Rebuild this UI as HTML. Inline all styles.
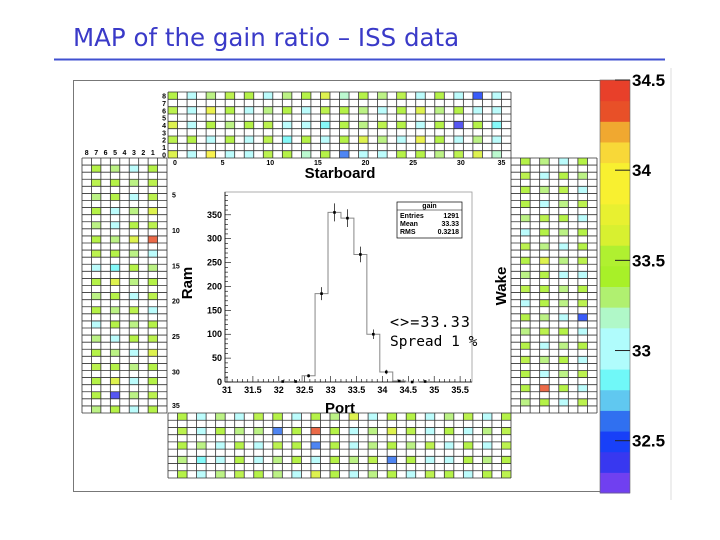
<!DOCTYPE html>
<html><head><meta charset="utf-8"><style>
body{margin:0;background:#fff;}
svg{display:block;font-family:"Liberation Sans",sans-serif;}
</style></head><body>
<svg id="c" width="720" height="540" viewBox="0 0 720 540" xmlns="http://www.w3.org/2000/svg">
<text x="73" y="46" font-family="DejaVu Sans, sans-serif" font-size="24.5" fill="#3a3ac8">MAP of the gain ratio – ISS data</text>
<line x1="54" y1="59.5" x2="665" y2="59.5" stroke="#4050d0" stroke-width="2"/>
<rect x="73.5" y="80.5" width="527" height="411" fill="#fff" stroke="#777"/>
<line x1="671" y1="68" x2="671" y2="500" stroke="#ddd"/>
<g id="panels"></g>
<g id="hist"></g>
<g id="cbar"></g>
<text x="340" y="178" text-anchor="middle" font-weight="bold" font-size="15">Starboard</text>
<text x="340" y="413" text-anchor="middle" font-weight="bold" font-size="15">Port</text>
<text transform="translate(192,283) rotate(-90)" text-anchor="middle" font-weight="bold" font-size="15">Ram</text>
<text transform="translate(506,286) rotate(-90)" text-anchor="middle" font-weight="bold" font-size="15">Wake</text>
<text x="390" y="327" font-family="DejaVu Sans Mono, monospace" font-size="15" letter-spacing="1.1">&lt;&gt;=33.33</text>
<text x="390" y="346" font-family="DejaVu Sans Mono, monospace" font-size="14.5">Spread 1 %</text>
</svg>
<script>
// heatmap values: char code -> gain = 32.25 + (code-'a')*0.1143
const topRows = ["khjlkhjkmikjlhkhcg","lhnkgjkhlkjhkmjkgh","mhkjklhgfkjlkhkbkf","lkhkhlfkhkmjgnkhjh","mhohglkikdghkkjlmi"];
const bottomRows = ["kgjhlkhkjmhkkgjlhk","lhkjjdkskhjmlgkhjl","kjhkglkdkhjkjlhkgl","jfhkhjkhkjldkhgkjk","khjlkjgmkhjkhlkgkl"];
const leftRows = ["kjhk","lkjl","jkhl","kgjm","jhkl","kjms","lkjh","hfkj","kmjk","jkhl","kjlh","hkjk","jhkl","kjhm","lkjk","kmhk","kbjl","jkhk"];
const rightRows = ["kjhk","lhkj","kjlh","kgjl","jlkh","hkjk","ljhk","kmjl","jkhg","lkjk","hkjl","kjhc","jlkh","khjk","ljkh","kgjl","kskh","jkhl"];
const histBins = [32.075,32.325,32.575,32.825,33.075,33.325,33.575,33.825,34.075,34.325,34.575,34.825];
const histCounts = [1,1,13,185,355,343,267,100,21,2,0,1];
const xTicks = [31,31.5,32,32.5,33,33.5,34,34.5,35,35.5];
const yTicks = [0,50,100,150,200,250,300,350];
const cbarTicks = [32.5,33,33.5,34,34.5];
const bandColors = ["#7040f0","#3838f0","#1840f8","#3070f0","#60c8f0","#70f8f8","#b0fcfc","#b0fcfc","#b0f8c8","#b0f070","#a8f028","#b0f030","#d8f030","#e8f030","#f8f030","#f8f030","#f8d838","#f0a830","#e85028","#e8402a"];

const NS="http://www.w3.org/2000/svg";
function mk(tag,attrs,parent){const e=document.createElementNS(NS,tag);for(const k in attrs)e.setAttribute(k,attrs[k]);parent.appendChild(e);return e;}
const gMin=32.21,gMax=34.5;
function gain(ch){return 32.25+(ch.charCodeAt(0)-97)*0.1143;}
function colorOf(v){let i=Math.floor((v-gMin)/(gMax-gMin)*20);i=Math.max(0,Math.min(19,i));return bandColors[i];}

const P=document.getElementById('panels');
function grid(x0,y0,w,h,nc,nr,name){
  const g=mk('g',{},P);
  
  
  mk('rect',{x:x0,y:y0,width:w,height:h,fill:'#fff'},g);
  return g;
}
function gridLines(g,x0,y0,w,h,nc,nr){
  for(let i=0;i<=nc;i++){const x=x0+i*w/nc;mk('line',{x1:x,y1:y0,x2:x,y2:y0+h,stroke:'#333','stroke-width':0.8},g);}
  for(let j=0;j<=nr;j++){const y=y0+j*h/nr;mk('line',{x1:x0,y1:y,x2:x0+w,y2:y,stroke:'#333','stroke-width':0.8},g);}
}
function cell(g,x,y,w,h,v){
  const r=mk('rect',{x:x,y:y,width:w,height:h,fill:colorOf(v),'fill-opacity':0.85},g);
  
  
}
{const x0=168,y0=92,w=343,h=66,cw=w/36,ch=h/9;const g=grid(x0,y0,w,h,36,9,'starboard-panel');
 topRows.forEach((s,ri)=>{const row=8-2*ri;[...s].forEach((c,ci)=>{const col=2*ci;cell(g,x0+col*cw,y0+(8-row)*ch,cw,ch,gain(c));});});
 gridLines(g,x0,y0,w,h,36,9);
 for(let r=0;r<=8;r++){const t=mk('text',{x:x0-2,y:y0+(8-r+0.5)*ch+3,'text-anchor':'end','font-size':7,'font-weight':'bold'},g);t.textContent=r;}
 for(let c=0;c<=35;c+=5){const t=mk('text',{x:x0+c*cw+(c==35?0:7),y:y0+h+7,'text-anchor':'middle','font-size':7,'font-weight':'bold'},g);t.textContent=c;}
}
{const x0=168,y0=413,w=343,h=65,cw=w/36,ch=h/9;const g=grid(x0,y0,w,h,36,9,'port-panel');
 bottomRows.forEach((s,ri)=>{const row=2*ri;[...s].forEach((c,ci)=>{const col=2*ci+1;cell(g,x0+col*cw,y0+row*ch,cw,ch,gain(c));});});
 gridLines(g,x0,y0,w,h,36,9);
}
{const x0=82,y0=158,w=85,h=255,cw=w/9,ch=h/36;const g=grid(x0,y0,w,h,9,36,'ram-panel');
 leftRows.forEach((s,ri)=>{const row=2*ri+1;[...s].forEach((c,ci)=>{const col=2*ci+1;cell(g,x0+col*cw,y0+row*ch,cw,ch,gain(c));});});
 gridLines(g,x0,y0,w,h,9,36);
 for(let i=0;i<8;i++){const t=mk('text',{x:x0+(i+0.5)*cw,y:y0-3,'text-anchor':'middle','font-size':7,'font-weight':'bold'},g);t.textContent=8-i;}
 for(let r=5;r<=35;r+=5){const t=mk('text',{x:x0+w+5,y:y0+r*ch+4+(r==35?-2:0),'font-size':7,'font-weight':'bold'},g);t.textContent=r;}
}
{const x0=511,y0=158,w=86,h=255,cw=w/9,ch=h/36;const g=grid(x0,y0,w,h,9,36,'wake-panel');
 rightRows.forEach((s,ri)=>{const row=2*ri;[...s].forEach((c,ci)=>{const col=2*ci+1;cell(g,x0+col*cw,y0+row*ch,cw,ch,gain(c));});});
 gridLines(g,x0,y0,w,h,9,36);
}

const H=document.getElementById('hist');
const ax={x0:31,px0:227,sx:51.8,py0:382,sy:0.4777};
function X(v){return ax.px0+(v-ax.x0)*ax.sx;}
function Y(v){return ax.py0-v*ax.sy;}
{const fr=mk('rect',{x:225,y:192,width:247,height:190,fill:'#fff',stroke:'#999','stroke-width':0.8},H);
 
 const ax1=mk('line',{x1:225,y1:382,x2:472,y2:382,stroke:'#000','stroke-width':0.8},H);
 
 const ay=mk('line',{x1:225,y1:192,x2:225,y2:382,stroke:'#000','stroke-width':0.8},H);
 
 for(let v=31;v<=35.75;v+=0.1){const x=X(v);const major=Math.abs(v*2-Math.round(v*2))<1e-6;mk('line',{x1:x,y1:382,x2:x,y2:382-(major?6:3),stroke:'#000','stroke-width':0.6},H);}
 for(let v=0;v<=390;v+=10){mk('line',{x1:225,y1:Y(v),x2:225+(v%50==0?6:3),y2:Y(v),stroke:'#000','stroke-width':0.6},H);}
 xTicks.forEach(v=>{const t=mk('text',{x:X(v),y:393,'text-anchor':'middle','font-size':9,'font-weight':'bold'},H);t.textContent=v;
   });
 yTicks.forEach(v=>{const t=mk('text',{x:222,y:Y(v)+3,'text-anchor':'end','font-size':9,'font-weight':'bold'},H);t.textContent=v;
   });
 const bw=0.25;let d='';
 histBins.forEach((c,i)=>{const a=X(c-bw/2),b=X(c+bw/2),y=Y(histCounts[i]);d+=(i==0?'M'+a+','+Y(0):'')+'L'+a+','+y+'L'+b+','+y;});
 d+='L'+X(histBins[histBins.length-1]+bw/2)+','+Y(0);
 const p=mk('path',{d:d,fill:'none',stroke:'#888','stroke-width':1},H);
 
 histBins.forEach((c,i)=>{const n=histCounts[i];const e=Math.sqrt(n);const x=X(c);
   if(n>0){mk('line',{x1:x,y1:Y(n+e),x2:x,y2:Y(Math.max(0,n-e)),stroke:'#000','stroke-width':0.7},H);}
   const dot=mk('rect',{x:x-1.3,y:Y(n)-1.3,width:2.6,height:2.6,fill:'#000'},H);
   });
 const sb=mk('g',{},H);
 mk('rect',{x:397,y:202,width:65,height:36,fill:'#fff',stroke:'#000','stroke-width':0.7},sb);
 mk('line',{x1:397,y1:210,x2:462,y2:210,stroke:'#000','stroke-width':0.6},sb);
 const rows=[['gain',null,208],['Entries','1291',218],['Mean','33.33',226],['RMS','0.3218',234]];
 rows.forEach(r=>{if(r[1]===null){const t=mk('text',{x:429.5,y:r[2],'text-anchor':'middle','font-size':7,'font-weight':'bold'},sb);t.textContent=r[0];}
  else{const a=mk('text',{x:400,y:r[2],'font-size':7,'font-weight':'bold'},sb);a.textContent=r[0];const b=mk('text',{x:459,y:r[2],'text-anchor':'end','font-size':7,'font-weight':'bold'},sb);b.textContent=r[1];}});
}

const C=document.getElementById('cbar');
{const top=80,bot=493,x=600,w=30;const bh=(bot-top)/20;
 bandColors.forEach((col,i)=>{const r=mk('rect',{x:x,y:bot-(i+1)*bh,width:w,height:bh+0.5,fill:col},C);
  });
 mk('rect',{x:x,y:top,width:w,height:bot-top,fill:'none',stroke:'#666','stroke-width':0.6},C);
 cbarTicks.forEach(v=>{const y=bot-(v-gMin)/(gMax-gMin)*(bot-top);
  mk('line',{x1:x+15,y1:y,x2:x+w,y2:y,stroke:'#222','stroke-width':1},C);
  const t=mk('text',{x:632,y:y+6,'font-size':17,'font-weight':'bold'},C);t.textContent=v;
  });
}
</script>
</body></html>
